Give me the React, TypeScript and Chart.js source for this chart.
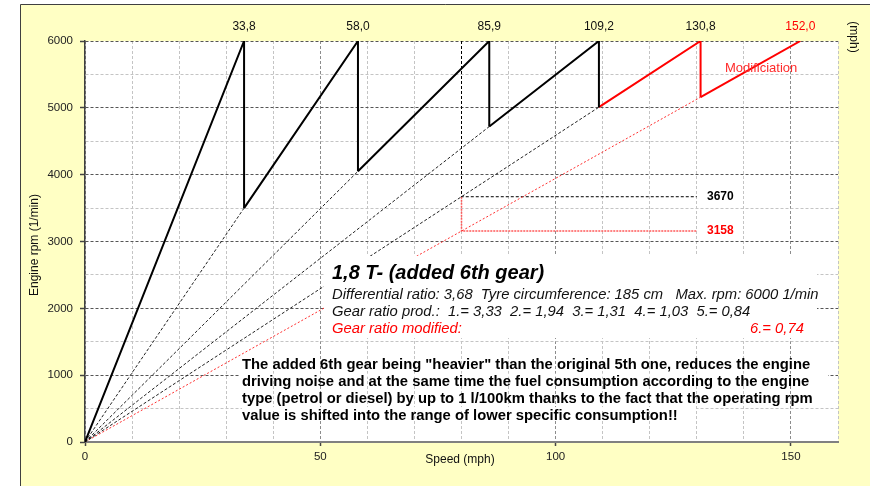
import React, { useEffect, useRef } from "react";
import { Chart, registerables } from "chart.js";

Chart.register(...registerables);

// ---- data ----
const gearTopSpeeds = [33.8, 58.0, 85.9, 109.2, 130.8, 152.0]; // mph at max rpm
const gearTopLabels = ["33,8", "58,0", "85,9", "109,2", "130,8", "152,0"];
const gearStartRpm = [0, 3500, 4050, 4720, 5010, 5160]; // rpm after shifting into gear n
const maxRpm = 6000;
const refSpeed = 80;
const refSpeedEnd = 130;
const refRpmOriginal = 3670;
const refRpmModified = 3158;
const refLabels = ["3670", "3158"];
const xTickLabels = [0, 50, 100, 150];
const yTickLabels = [0, 1000, 2000, 3000, 4000, 5000, 6000];

const titleText = "1,8 T- (added 6th gear)";
const infoLines = [
  "Differential ratio: 3,68  Tyre circumference: 185 cm   Max. rpm: 6000 1/min",
  "Gear ratio prod.:  1.= 3,33  2.= 1,94  3.= 1,31  4.= 1,03  5.= 0,84",
];
const modifiedText = "Gear ratio modified:";
const modifiedValue = "6.= 0,74";
const noteLines = [
  'The added 6th gear being "heavier" than the original 5th one, reduces the engine',
  "driving noise and at the same time the fuel consumption according to the engine",
  "type (petrol or diesel) by up to 1 l/100km thanks to the fact that the operating rpm",
  "value is shifted into the range of lower specific consumption!!",
];

const FONT = '"Liberation Sans", Arial, sans-serif';
const RED = "#ff0000";
const YELLOW = "#ffffc4";

export default function App() {
  const ref = useRef<HTMLCanvasElement | null>(null);

  useEffect(() => {
    const canvas = ref.current;
    if (!canvas) return;

    const datasets: any[] = [];
    // gear saw-tooth segments
    for (let i = 0; i < gearTopSpeeds.length; i++) {
      const startX = i === 0 ? 0 : gearTopSpeeds[i - 1];
      const pts: any[] = [
        { x: startX, y: gearStartRpm[i] },
        { x: gearTopSpeeds[i], y: maxRpm },
      ];
      if (i < gearTopSpeeds.length - 1) pts.push({ x: gearTopSpeeds[i], y: gearStartRpm[i + 1] });
      const red = i >= 4;
      datasets.push({
        data: pts,
        borderColor: red ? RED : "#000000",
        borderWidth: 2,
        order: 1,
      });
    }
    // rays from origin
    for (let i = 1; i < gearTopSpeeds.length; i++) {
      const red = i === 5;
      datasets.push({
        data: [
          { x: 0, y: 0 },
          { x: gearTopSpeeds[i - 1], y: gearStartRpm[i] },
        ],
        borderColor: red ? "#ff3030" : "#222222",
        borderWidth: 1,
        borderDash: red ? [2, 2] : [3, 2],
        order: 2,
      });
    }
    // reference speed lines
    datasets.push({
      data: [
        { x: refSpeed, y: maxRpm },
        { x: refSpeed, y: refRpmOriginal },
        { x: refSpeedEnd, y: refRpmOriginal },
      ],
      borderColor: "#000000",
      borderWidth: 1,
      borderDash: [3, 2],
      order: 3,
    });
    datasets.push({
      data: [
        { x: refSpeed, y: refRpmOriginal },
        { x: refSpeed, y: refRpmModified },
        { x: refSpeedEnd, y: refRpmModified },
      ],
      borderColor: "#ff5a5a",
      borderWidth: 1.5,
      borderDash: [2, 1],
      order: 3,
    });

    const text = (
      ctx: CanvasRenderingContext2D,
      s: string,
      x: number,
      y: number,
      font: string,
      color: string,
      align: CanvasTextAlign = "left"
    ) => {
      ctx.font = font;
      ctx.fillStyle = color;
      ctx.textAlign = align;
      ctx.textBaseline = "middle";
      ctx.fillText(s, x, y);
    };

    const decor = {
      id: "decor",
      beforeDraw(chart: any) {
        const { ctx, chartArea: a } = chart;
        ctx.save();
        ctx.fillStyle = "#ffffff";
        ctx.fillRect(0, 0, chart.width, chart.height);
        ctx.fillStyle = YELLOW;
        ctx.fillRect(20, 4, chart.width - 20, chart.height - 4);
        ctx.strokeStyle = "#404040";
        ctx.lineWidth = 1;
        ctx.beginPath();
        ctx.moveTo(20.5, chart.height);
        ctx.lineTo(20.5, 4.5);
        ctx.lineTo(chart.width, 4.5);
        ctx.stroke();
        ctx.fillStyle = "#ffffff";
        ctx.fillRect(a.left, a.top, a.right - a.left, a.bottom - a.top);
        ctx.restore();
      },
      beforeDatasetsDraw(chart: any) {
        const { ctx } = chart;
        const ys = chart.scales.y;
        ctx.save();
        ctx.fillStyle = "#ffffff";
        const y1 = ys.getPixelForValue(1000);
        ctx.fillRect(240, y1 - 1.5, 588, 3);
        const y2 = ys.getPixelForValue(500);
        ctx.fillRect(242, y2 - 1.5, 454, 3);
        ctx.restore();
      },
      afterDatasetsDraw(chart: any) {
        const { ctx } = chart;
        const xs = chart.scales.x;
        const ys = chart.scales.y;
        ctx.save();
        // info box
        ctx.fillStyle = "#ffffff";
        ctx.fillRect(324, 256, 493, 82);
        text(ctx, titleText, 332, 273, `italic bold 20px ${FONT}`, "#000");
        text(ctx, infoLines[0], 332, 295, `italic 14.8px ${FONT}`, "#111");
        text(ctx, infoLines[1], 332, 312, `italic 14.8px ${FONT}`, "#111");
        text(ctx, modifiedText, 332, 329, `italic 14.8px ${FONT}`, RED);
        text(ctx, modifiedValue, 750, 329, `italic 14.8px ${FONT}`, RED);
        // note
        const noteY = [365, 382, 399, 416];
        noteLines.forEach((l, i) => text(ctx, l, 242, noteY[i], `bold 14.8px ${FONT}`, "#000"));
        // peak labels
        gearTopSpeeds.forEach((v, i) => {
          text(ctx, gearTopLabels[i], xs.getPixelForValue(v), 27, `12px ${FONT}`, i === 5 ? RED : "#111", "center");
        });
        // reference labels
        text(ctx, refLabels[0], 707, ys.getPixelForValue(refRpmOriginal), `bold 12px ${FONT}`, "#000");
        text(ctx, refLabels[1], 707, ys.getPixelForValue(refRpmModified), `bold 12px ${FONT}`, RED);
        text(ctx, "Modificiation", 725, 68, `13px ${FONT}`, "#ff2a2a");
        // axis titles
        text(ctx, "Speed (mph)", 460, 460, `12px ${FONT}`, "#111", "center");
        ctx.save();
        ctx.translate(35, 245);
        ctx.rotate(-Math.PI / 2);
        text(ctx, "Engine rpm (1/min)", 0, 0, `12px ${FONT}`, "#111", "center");
        ctx.restore();
        ctx.save();
        ctx.translate(853, 37);
        ctx.rotate(Math.PI / 2);
        text(ctx, "(mph)", 0, 0, `12px ${FONT}`, "#111", "center");
        ctx.restore();
        ctx.restore();
      },
    };

    const isMajorX = (c: any) => c.tick && xTickLabels.includes(c.tick.value);
    const isMajorY = (c: any) => c.tick && yTickLabels.includes(c.tick.value);

    const chart = new Chart(canvas, {
      type: "scatter",
      data: { datasets },
      options: {
        animation: false,
        responsive: false,
        showLine: true,
        elements: {
          point: { radius: 0, hoverRadius: 0 },
          line: { tension: 0, fill: false },
        },
        layout: { padding: { top: 41, right: 32, left: 0, bottom: 0 } },
        plugins: {
          legend: { display: false },
          tooltip: { enabled: false },
        },
        scales: {
          x: {
            type: "linear",
            min: 0,
            max: 160,
            afterFit: (s: any) => {
              s.height = 44;
            },
            ticks: {
              stepSize: 10,
              autoSkip: false,
              maxRotation: 0,
              padding: 4,
              color: "#222",
              font: { family: FONT, size: 11.5 },
              callback: (v: any) => (xTickLabels.includes(Number(v)) ? String(v) : ""),
            },
            grid: {
              color: (c: any) => (isMajorX(c) ? "#8c8c8c" : "#c4c4c4"),
              lineWidth: 1,
              tickLength: 4,
              tickWidth: 1.5,
              tickColor: (c: any) => (isMajorX(c) ? "#444" : "rgba(0,0,0,0)"),
            },
            border: { color: "#808080", width: 2, dash: [3, 2] },
          },
          y: {
            type: "linear",
            min: 0,
            max: 6000,
            afterFit: (s: any) => {
              s.width = 85;
            },
            ticks: {
              stepSize: 500,
              autoSkip: false,
              padding: 7,
              color: "#222",
              font: { family: FONT, size: 11.5 },
              callback: (v: any) => (yTickLabels.includes(Number(v)) ? String(v) : ""),
            },
            grid: {
              color: (c: any) => (isMajorY(c) ? "#555555" : "#c4c4c4"),
              lineWidth: 1,
              tickLength: 5,
              tickWidth: 1.5,
              tickColor: (c: any) => (isMajorY(c) ? "#444" : "rgba(0,0,0,0)"),
            },
            border: { color: "#404040", width: 1.5, dash: [3, 2] },
          },
        },
      } as any,
      plugins: [decor],
    });

    return () => chart.destroy();
  }, []);

  return (
    <div style={{ position: "fixed", left: 0, top: 0, width: 870, height: 486 }}>
      <canvas ref={ref} width={870} height={486} style={{ display: "block" }} />
    </div>
  );
}
